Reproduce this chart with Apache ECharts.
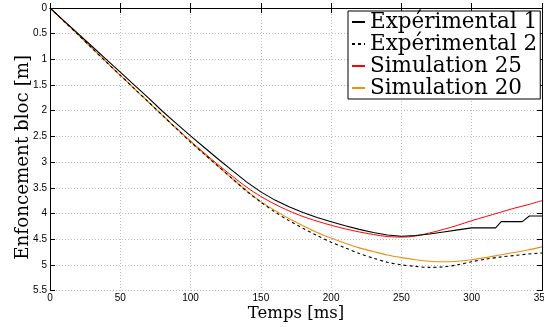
<!DOCTYPE html>
<html>
<head>
<meta charset="utf-8">
<script src="https://cdn.jsdelivr.net/npm/echarts@6/dist/echarts.min.js"></script>
<style>
html,body{margin:0;padding:0;background:#fff;}
#c{width:544px;height:327px;}
</style>
</head>
<body>
<div id="c"></div>
<script>
// Time axis (ms)
const tCommon = [0,10,20,30,40,50,60,70,80,90,100,110,120,130,140,150,160,170,180,190,200,210,220,230,240,250,260,270,280,290,300,310,320,330,340,350];
// Expérimental 1 (irregular time points because of the steps)
const tExp1 = [0,10,20,30,40,50,60,70,80,90,100,110,120,130,140,150,160,170,180,190,200,210,220,230,240,250,260,270,280,290,300,317,321,336,341,350];
const exp1  = [0,0.25,0.5,0.75,1.0,1.25,1.5,1.75,2.01,2.25,2.49,2.72,2.95,3.17,3.39,3.58,3.74,3.87,3.98,4.08,4.16,4.24,4.31,4.37,4.42,4.445,4.43,4.40,4.36,4.32,4.28,4.28,4.16,4.16,4.05,4.05];
// Expérimental 2
const exp2  = [0,0.26,0.52,0.785,1.05,1.31,1.57,1.83,2.09,2.35,2.61,2.85,3.09,3.33,3.57,3.78,3.97,4.14,4.29,4.43,4.56,4.67,4.78,4.87,4.95,5.00,5.03,5.05,5.04,5.00,4.94,4.89,4.85,4.82,4.79,4.77];
// Simulation 25
const sim25 = [0,0.26,0.52,0.785,1.05,1.31,1.57,1.83,2.09,2.34,2.59,2.83,3.06,3.28,3.49,3.67,3.82,3.95,4.06,4.15,4.23,4.30,4.36,4.41,4.45,4.46,4.44,4.38,4.31,4.23,4.14,4.06,3.98,3.90,3.83,3.75];
// Simulation 20
const sim20 = [0,0.26,0.52,0.785,1.05,1.31,1.57,1.83,2.09,2.35,2.60,2.85,3.09,3.33,3.56,3.77,3.94,4.10,4.24,4.37,4.48,4.58,4.67,4.74,4.81,4.86,4.90,4.93,4.94,4.93,4.90,4.86,4.81,4.76,4.71,4.65];

const names = ['Expérimental 1','Expérimental 2','Simulation 25','Simulation 20'];

const zip = (xs, ys) => xs.map((x,i)=>[x, ys[i]]);

const chart = echarts.init(document.getElementById('c'), null, {renderer:'canvas'});
const gridStyle = {show:true, lineStyle:{color:'#bdbdbd', width:1, type:[1,2]}};
const tickFont = {fontFamily:'Liberation Sans', fontSize:10, color:'#000'};
const titleFont = {fontFamily:'DejaVu Serif', fontSize:16.5, color:'#000'};

chart.setOption({
  animation:false,
  backgroundColor:'#fff',
  grid:{left:50, right:2, top:8, bottom:36.5, containLabel:false, outerBoundsMode:'none'},
  legend:{
    data:names,
    orient:'vertical',
    left:348, top:11,
    padding:[0,3,0,3],
    itemGap:0,
    itemWidth:13, itemHeight:10,
    backgroundColor:'#fff',
    borderColor:'#000', borderWidth:1,
    borderRadius:0,
    itemStyle:{opacity:0},
    textStyle:{fontFamily:'DejaVu Serif', fontSize:21.5, color:'#000', lineHeight:21.3},
    z:10
  },
  xAxis:[{
    type:'value', min:0, max:350, interval:50, position:'bottom',
    name:'Temps [ms]', nameLocation:'middle', nameGap:15, nameTextStyle:titleFont, nameMoveOverlap:false,
    axisLine:{show:true, lineStyle:{color:'#000', width:1}},
    axisTick:{show:true, inside:true, length:5, lineStyle:{color:'#000'}},
    axisLabel:Object.assign({margin:3}, tickFont),
    splitLine:gridStyle
  },{
    type:'value', min:0, max:350, interval:50, position:'top',
    axisLine:{show:true, onZero:false, lineStyle:{color:'#000', width:1}},
    axisTick:{show:true, inside:true, length:5, lineStyle:{color:'#000'}},
    axisLabel:{show:false}, splitLine:{show:false}
  }],
  yAxis:[{
    type:'value', min:0, max:5.5, interval:0.5, inverse:true, position:'left',
    name:'Enfoncement bloc [m]', nameLocation:'middle', nameGap:18, nameRotate:90, nameMoveOverlap:false,
    nameTextStyle:{fontFamily:'DejaVu Serif', fontSize:18.3, color:'#000', padding:[0,16,0,0]},
    axisLine:{show:true, onZero:false, lineStyle:{color:'#000', width:1}},
    axisTick:{show:true, inside:true, length:5, lineStyle:{color:'#000'}},
    axisLabel:Object.assign({margin:3}, tickFont),
    splitLine:gridStyle
  },{
    type:'value', min:0, max:5.5, interval:0.5, inverse:true, position:'right',
    axisLine:{show:true, onZero:false, lineStyle:{color:'#000', width:1}},
    axisTick:{show:true, inside:true, length:5, lineStyle:{color:'#000'}},
    axisLabel:{show:false}, splitLine:{show:false}
  }],
  series:[
    {name:names[0], type:'line', data:zip(tExp1, exp1), showSymbol:false, symbol:'none',
     lineStyle:{color:'#000', width:1.1}, itemStyle:{color:'#000'}, z:5},
    {name:names[1], type:'line', data:zip(tCommon, exp2), showSymbol:false, symbol:'none', smooth:0.3,
     lineStyle:{color:'#000', width:1.1, type:[3,3]}, itemStyle:{color:'#000'}, z:4},
    {name:names[2], type:'line', data:zip(tCommon, sim25), showSymbol:false, symbol:'none', smooth:0.3,
     lineStyle:{color:'#ff0000', width:1}, itemStyle:{color:'#ff0000'}, z:3},
    {name:names[3], type:'line', data:zip(tCommon, sim20), showSymbol:false, symbol:'none', smooth:0.3,
     lineStyle:{color:'#ec8f14', width:1.1}, itemStyle:{color:'#ec8f14'}, z:3}
  ]
});
</script>
</body>
</html>
